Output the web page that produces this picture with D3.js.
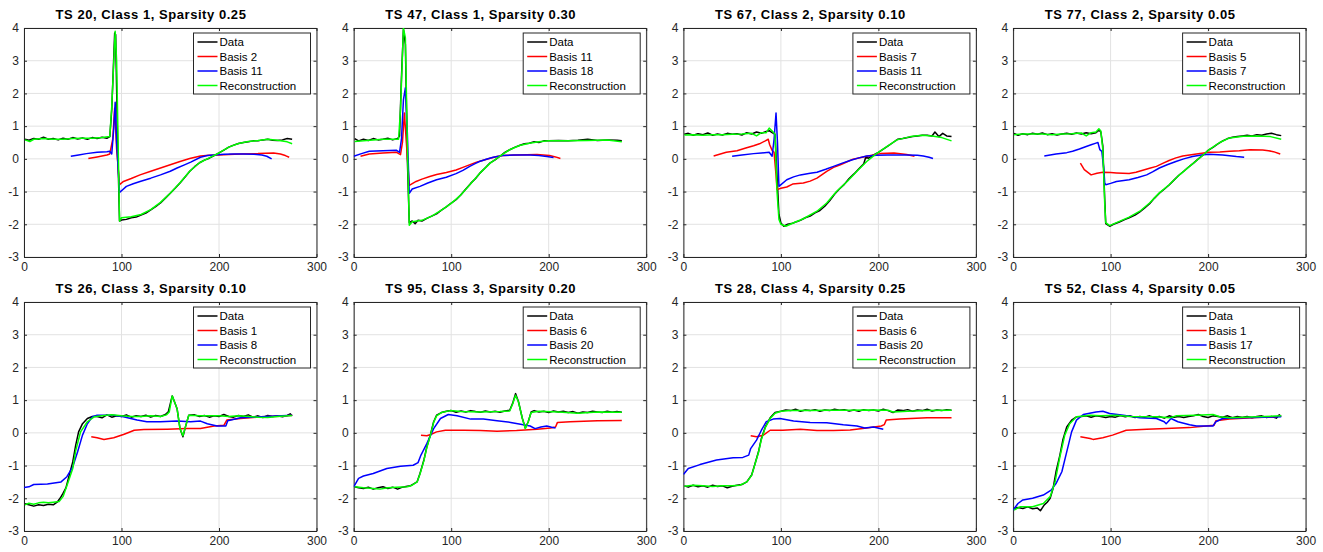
<!DOCTYPE html>
<html>
<head>
<meta charset="utf-8">
<script src="https://cdn.jsdelivr.net/npm/d3@7"></script>
<style>
  body { margin: 0; background: #fff; }
  text { font-family: "Liberation Sans", Arial, Helvetica, sans-serif; fill: #262626; }
  .title { font-weight: bold; font-size: 13px; letter-spacing: 0.55px; fill: #000; }
  .tick text { font-size: 12px; }
  .legend text { font-size: 11.5px; fill: #000; }
</style>
</head>
<body>
<svg id="fig" width="1323" height="552"></svg>
<script>
const titles = [
  "TS 20, Class 1, Sparsity 0.25", "TS 47, Class 1, Sparsity 0.30",
  "TS 67, Class 2, Sparsity 0.10", "TS 77, Class 2, Sparsity 0.05",
  "TS 26, Class 3, Sparsity 0.10", "TS 95, Class 3, Sparsity 0.20",
  "TS 28, Class 4, Sparsity 0.25", "TS 52, Class 4, Sparsity 0.05"
];
const basisALabels = ["Basis 2", "Basis 11", "Basis 7", "Basis 5", "Basis 1", "Basis 6", "Basis 6", "Basis 1"];
const basisBLabels = ["Basis 11", "Basis 18", "Basis 11", "Basis 7", "Basis 8", "Basis 20", "Basis 20", "Basis 17"];
const xTicks = [0, 100, 200, 300];
const yTicks = [-3, -2, -1, 0, 1, 2, 3, 4];

// [t, value] pairs, one list per panel
const dataSeries = [
  [[1,0.6],[5,0.57],[10,0.62],[15,0.6],[20,0.66],[25,0.6],[30,0.62],[35,0.58],[40,0.63],[45,0.6],[50,0.65],[55,0.61],[60,0.64],[65,0.6],[70,0.65],[75,0.62],[80,0.66],[85,0.63],[88,0.68],[90,1.5],[93,3.85],[94,3.8],[96,0.5],[98,-1.9],[100,-1.87],[105,-1.85],[110,-1.8],[115,-1.78],[120,-1.72],[125,-1.66],[130,-1.56],[135,-1.46],[140,-1.35],[145,-1.2],[150,-1.05],[155,-0.9],[160,-0.74],[165,-0.56],[170,-0.38],[175,-0.24],[180,-0.12],[185,-0.04],[190,0.02],[195,0.1],[200,0.18],[205,0.27],[210,0.36],[215,0.42],[220,0.47],[225,0.5],[230,0.52],[235,0.55],[240,0.55],[245,0.58],[250,0.6],[255,0.57],[260,0.56],[265,0.58],[270,0.62],[275,0.6]],
  [[1,0.62],[5,0.55],[10,0.6],[15,0.56],[20,0.62],[25,0.58],[30,0.6],[35,0.63],[40,0.58],[45,0.62],[47,0.7],[49,2.5],[51,3.95],[53,3.5],[55,0.0],[57,-1.95],[60,-1.9],[63,-1.98],[66,-1.88],[70,-1.9],[75,-1.82],[80,-1.75],[85,-1.68],[90,-1.57],[95,-1.47],[100,-1.35],[105,-1.25],[110,-1.1],[115,-0.92],[120,-0.75],[125,-0.6],[130,-0.42],[135,-0.27],[140,-0.12],[145,-0.03],[150,0.08],[155,0.2],[160,0.28],[165,0.35],[170,0.41],[175,0.46],[180,0.48],[185,0.52],[190,0.5],[195,0.55],[200,0.55],[210,0.56],[220,0.55],[230,0.57],[240,0.6],[250,0.56],[260,0.58],[270,0.57],[275,0.55]],
  [[1,0.75],[5,0.78],[10,0.72],[15,0.77],[20,0.74],[25,0.79],[30,0.72],[35,0.76],[40,0.73],[45,0.78],[50,0.75],[55,0.77],[60,0.73],[65,0.8],[70,0.76],[75,0.82],[80,0.78],[85,0.84],[88,0.86],[91,0.8],[94,0.75],[96,-0.5],[98,-1.7],[100,-1.96],[103,-2.06],[107,-2.0],[112,-1.97],[116,-1.92],[120,-1.88],[125,-1.8],[130,-1.75],[135,-1.65],[140,-1.58],[145,-1.45],[150,-1.28],[155,-1.08],[160,-0.92],[165,-0.78],[170,-0.6],[175,-0.46],[180,-0.3],[185,-0.15],[187,0.05],[190,0.02],[195,0.12],[200,0.2],[205,0.3],[210,0.4],[215,0.5],[220,0.6],[225,0.62],[230,0.65],[235,0.68],[240,0.7],[245,0.72],[250,0.72],[255,0.7],[258,0.82],[262,0.68],[266,0.78],[270,0.7],[275,0.68]],
  [[1,0.78],[5,0.72],[10,0.77],[15,0.74],[20,0.78],[25,0.75],[30,0.79],[35,0.74],[40,0.77],[45,0.73],[50,0.76],[55,0.78],[60,0.75],[65,0.79],[70,0.76],[75,0.8],[80,0.77],[85,0.8],[88,0.88],[90,0.82],[92,0.4],[94,-1.25],[95,-1.98],[99,-2.06],[103,-2.0],[109,-1.93],[115,-1.85],[119,-1.8],[125,-1.72],[130,-1.62],[135,-1.5],[140,-1.37],[145,-1.2],[150,-1.05],[155,-0.93],[160,-0.8],[165,-0.65],[170,-0.5],[175,-0.38],[180,-0.25],[185,-0.13],[190,0.0],[195,0.12],[200,0.26],[205,0.35],[210,0.46],[215,0.55],[220,0.62],[225,0.66],[230,0.68],[235,0.7],[240,0.72],[245,0.7],[250,0.74],[255,0.72],[260,0.76],[265,0.78],[270,0.74],[275,0.71]],
  [[1,-2.17],[5,-2.2],[10,-2.24],[15,-2.2],[20,-2.22],[25,-2.18],[30,-2.2],[34,-2.12],[37,-2.0],[40,-1.85],[43,-1.68],[46,-1.34],[50,-0.89],[53,-0.38],[56,0.03],[60,0.28],[65,0.44],[70,0.5],[75,0.5],[80,0.46],[85,0.55],[90,0.48],[95,0.52],[100,0.5],[105,0.55],[110,0.48],[115,0.52],[120,0.5],[125,0.54],[130,0.48],[135,0.53],[140,0.5],[145,0.56],[148,0.64],[152,1.13],[155,0.9],[157,0.74],[160,0.13],[163,-0.12],[166,0.23],[169,0.54],[175,0.55],[180,0.5],[185,0.53],[190,0.48],[195,0.52],[200,0.5],[205,0.56],[210,0.5],[215,0.48],[220,0.53],[225,0.5],[230,0.55],[235,0.48],[240,0.52],[245,0.47],[250,0.53],[255,0.5],[260,0.52],[265,0.49],[270,0.53],[273,0.58],[275,0.52]],
  [[1,-1.65],[5,-1.68],[10,-1.7],[15,-1.66],[20,-1.72],[25,-1.68],[30,-1.65],[35,-1.7],[40,-1.66],[45,-1.72],[50,-1.66],[55,-1.63],[58,-1.62],[65,-1.5],[68,-1.24],[72,-0.83],[75,-0.43],[79,-0.02],[82,0.34],[85,0.54],[90,0.62],[95,0.66],[100,0.68],[105,0.63],[110,0.67],[115,0.64],[120,0.68],[125,0.65],[130,0.63],[135,0.67],[140,0.64],[145,0.66],[150,0.63],[155,0.67],[160,0.69],[163,0.9],[166,1.2],[169,0.95],[173,0.44],[176,0.15],[179,0.34],[182,0.64],[185,0.68],[190,0.64],[195,0.66],[200,0.62],[205,0.67],[210,0.64],[215,0.66],[220,0.62],[225,0.65],[230,0.6],[235,0.64],[240,0.62],[245,0.66],[250,0.64],[255,0.62],[260,0.66],[265,0.63],[270,0.65],[275,0.63]],
  [[1,-1.62],[5,-1.66],[10,-1.6],[15,-1.65],[20,-1.62],[25,-1.66],[30,-1.6],[35,-1.64],[40,-1.62],[45,-1.68],[50,-1.63],[55,-1.6],[60,-1.58],[65,-1.5],[70,-1.29],[73,-0.99],[77,-0.58],[80,-0.17],[84,0.18],[89,0.46],[94,0.62],[100,0.66],[105,0.7],[110,0.68],[115,0.72],[120,0.66],[125,0.7],[130,0.68],[135,0.71],[140,0.66],[145,0.7],[150,0.68],[155,0.72],[160,0.69],[165,0.71],[170,0.67],[175,0.7],[180,0.66],[185,0.71],[190,0.68],[195,0.7],[200,0.67],[205,0.72],[210,0.68],[215,0.62],[220,0.7],[225,0.68],[230,0.71],[235,0.66],[240,0.7],[245,0.68],[250,0.72],[255,0.67],[260,0.7],[265,0.68],[270,0.71],[275,0.69]],
  [[1,-2.31],[5,-2.28],[10,-2.31],[15,-2.26],[20,-2.32],[25,-2.3],[28,-2.38],[32,-2.2],[35,-2.12],[38,-2.0],[41,-1.7],[44,-1.19],[48,-0.68],[51,-0.22],[55,0.18],[60,0.39],[65,0.49],[70,0.5],[75,0.52],[80,0.48],[85,0.52],[90,0.5],[95,0.47],[100,0.5],[105,0.48],[110,0.53],[115,0.49],[120,0.52],[125,0.47],[130,0.5],[135,0.48],[140,0.52],[145,0.47],[150,0.5],[155,0.45],[160,0.52],[165,0.48],[170,0.5],[175,0.47],[180,0.5],[185,0.52],[190,0.56],[195,0.5],[200,0.47],[205,0.52],[210,0.5],[215,0.48],[220,0.52],[225,0.46],[230,0.5],[235,0.47],[240,0.5],[245,0.46],[250,0.5],[255,0.52],[260,0.47],[265,0.5],[270,0.45],[273,0.55],[275,0.5]]
];

const basisASeries = [
  [[66,0.01],[75,0.06],[85,0.12],[88,0.15],[91,0.6],[93,1.55],[95,0.3],[98,-0.79],[102,-0.69],[110,-0.6],[119,-0.49],[130,-0.38],[140,-0.28],[150,-0.18],[160,-0.08],[170,0.01],[181,0.09],[190,0.11],[200,0.12],[210,0.13],[222,0.15],[240,0.16],[256,0.18],[263,0.15],[268,0.1],[272,0.05]],
  [[7,0.08],[16,0.15],[30,0.18],[44,0.2],[48,0.13],[50,0.5],[52,1.4],[54,0.5],[57,-0.81],[64,-0.69],[70,-0.62],[78,-0.54],[85,-0.48],[95,-0.42],[105,-0.34],[112,-0.26],[120,-0.17],[126,-0.1],[133,-0.04],[140,0.02],[147,0.07],[153,0.1],[167,0.12],[188,0.13],[201,0.1],[207,0.06],[212,0.01]],
  [[31,0.09],[44,0.2],[55,0.25],[64,0.33],[72,0.4],[78,0.46],[84,0.55],[87,0.6],[88.5,0.43],[91,0.26],[93,0.2],[95,-0.5],[96,-0.94],[100,-0.9],[106,-0.86],[112,-0.77],[123,-0.74],[130,-0.68],[137,-0.59],[147,-0.38],[154,-0.26],[161,-0.18],[168,-0.09],[174,-0.01],[188,0.08],[202,0.16],[216,0.18],[229,0.13],[237,0.08]],
  [[69,-0.13],[73,-0.33],[77,-0.42],[80,-0.49],[86,-0.44],[92,-0.41],[100,-0.42],[106,-0.43],[119,-0.45],[126,-0.41],[133,-0.35],[140,-0.29],[147,-0.23],[154,-0.13],[160,-0.05],[167,0.03],[174,0.09],[181,0.12],[188,0.15],[201,0.2],[212,0.21],[222,0.23],[232,0.25],[243,0.28],[256,0.27],[262,0.25],[267,0.22],[274,0.15]],
  [[69,-0.12],[75,-0.15],[82,-0.2],[92,-0.15],[102,-0.05],[108,0.02],[113,0.08],[123,0.1],[147,0.11],[167,0.13],[181,0.13],[195,0.21],[205,0.23],[208,0.39],[222,0.44],[243,0.49],[263,0.51],[275,0.54]],
  [[69,-0.07],[75,-0.09],[79,-0.05],[85,0.03],[94,0.08],[113,0.08],[130,0.07],[147,0.05],[167,0.07],[188,0.11],[202,0.15],[207,0.18],[209,0.32],[222,0.34],[250,0.37],[275,0.38]],
  [[69,-0.09],[75,-0.12],[82,-0.07],[89,0.08],[102,0.08],[120,0.11],[137,0.07],[154,0.07],[171,0.09],[188,0.15],[203,0.21],[206,0.25],[208,0.39],[222,0.42],[250,0.46],[275,0.46]],
  [[69,-0.12],[79,-0.17],[82,-0.2],[92,-0.15],[102,-0.07],[116,0.08],[137,0.11],[157,0.13],[181,0.16],[198,0.21],[206,0.23],[208,0.37],[222,0.42],[250,0.47],[270,0.49]]
];

const basisBSeries = [
  [[48,0.08],[56,0.12],[64,0.16],[75,0.2],[85,0.22],[88,0.23],[90,0.15],[92,0.9],[93.5,1.73],[95,0.5],[98,-1.03],[105,-0.84],[112,-0.76],[119,-0.69],[130,-0.59],[140,-0.49],[150,-0.38],[157,-0.28],[164,-0.19],[171,-0.1],[181,0.05],[188,0.1],[195,0.12],[205,0.14],[215,0.15],[225,0.15],[236,0.14],[244,0.12],[249,0.08],[254,0.0]],
  [[0,0.08],[8,0.16],[16,0.23],[30,0.25],[44,0.26],[47,0.2],[49,0.6],[51,1.8],[53,2.17],[55,0.8],[57,-1.05],[60,-0.92],[68,-0.84],[76,-0.74],[85,-0.64],[95,-0.56],[105,-0.45],[112,-0.35],[119,-0.23],[125,-0.14],[129,-0.08],[136,-0.01],[143,0.05],[153,0.1],[164,0.12],[181,0.12],[190,0.1],[198,0.07],[205,0.04]],
  [[50,0.08],[60,0.12],[72,0.16],[80,0.18],[88,0.2],[91,0.08],[93,0.6],[95,1.4],[96.5,0.5],[98,-0.84],[106,-0.64],[113,-0.55],[120,-0.49],[130,-0.44],[137,-0.41],[146,-0.32],[154,-0.23],[163,-0.13],[171,-0.05],[180,0.03],[188,0.09],[198,0.11],[209,0.12],[229,0.12],[240,0.11],[246,0.09],[252,0.05],[256,0.01]],
  [[32,0.09],[44,0.15],[55,0.19],[61,0.23],[68,0.3],[75,0.38],[80,0.43],[85,0.48],[87,0.5],[89,0.28],[91,0.23],[93,-0.3],[94,-0.74],[95,-0.79],[100,-0.75],[106,-0.69],[119,-0.64],[128,-0.57],[137,-0.49],[143,-0.4],[150,-0.28],[158,-0.18],[167,-0.08],[175,0.0],[184,0.07],[193,0.12],[201,0.14],[215,0.12],[229,0.07],[237,0.05]],
  [[0,-1.67],[5,-1.65],[10,-1.58],[24,-1.56],[38,-1.5],[44,-1.34],[50,-1.04],[55,-0.58],[60,-0.07],[65,0.28],[70,0.49],[75,0.54],[92,0.54],[102,0.49],[116,0.39],[126,0.34],[140,0.34],[157,0.36],[171,0.34],[181,0.36],[188,0.28],[198,0.21],[207,0.21],[209,0.37],[222,0.46],[243,0.49],[275,0.54]],
  [[0,-1.65],[5,-1.39],[10,-1.32],[20,-1.24],[34,-1.09],[48,-1.02],[61,-0.99],[66,-0.91],[69,-0.68],[75,-0.33],[82,0.13],[89,0.44],[97,0.56],[106,0.52],[120,0.42],[133,0.42],[147,0.37],[161,0.32],[174,0.25],[181,0.21],[186,0.13],[192,0.18],[198,0.21],[203,0.17],[207,0.15]],
  [[0,-1.27],[5,-1.09],[17,-0.97],[34,-0.83],[51,-0.76],[61,-0.75],[67,-0.68],[69,-0.48],[75,-0.22],[80,0.08],[85,0.34],[92,0.42],[99,0.44],[113,0.36],[130,0.32],[147,0.31],[164,0.25],[178,0.21],[186,0.15],[195,0.18],[205,0.11]],
  [[0,-2.36],[5,-2.16],[10,-2.05],[20,-2.0],[31,-1.9],[39,-1.75],[44,-1.55],[50,-1.19],[55,-0.58],[60,0.03],[65,0.39],[72,0.56],[85,0.64],[92,0.66],[99,0.59],[113,0.54],[130,0.46],[147,0.44],[155,0.34],[157,0.28],[162,0.44],[169,0.34],[181,0.25],[188,0.21],[205,0.21],[208,0.34],[215,0.44],[236,0.46],[275,0.49]]
];

const reconSeries = [
  [[1,0.58],[6,0.53],[10,0.6],[20,0.62],[30,0.6],[40,0.6],[50,0.62],[60,0.63],[70,0.63],[80,0.65],[88,0.68],[90,1.6],[93.5,3.9],[95,3.0],[98,-1.9],[100,-1.8],[110,-1.77],[120,-1.7],[130,-1.55],[140,-1.33],[150,-1.05],[160,-0.73],[170,-0.38],[180,-0.12],[190,0.03],[200,0.18],[210,0.36],[220,0.47],[230,0.53],[240,0.56],[250,0.6],[260,0.57],[270,0.52],[275,0.46]],
  [[1,0.53],[10,0.55],[20,0.58],[30,0.6],[40,0.6],[46,0.6],[48,1.5],[51,4.0],[53,3.7],[55,0.5],[57,-2.03],[60,-1.92],[70,-1.88],[80,-1.75],[90,-1.57],[100,-1.36],[110,-1.1],[120,-0.76],[130,-0.42],[140,-0.13],[150,0.08],[160,0.28],[170,0.41],[180,0.48],[190,0.52],[200,0.55],[220,0.55],[240,0.56],[260,0.58],[275,0.52]],
  [[1,0.73],[10,0.74],[20,0.72],[30,0.74],[40,0.74],[50,0.75],[60,0.76],[70,0.78],[75,0.7],[80,0.8],[85,0.8],[88,0.94],[92,0.82],[94,0.75],[96,-1.0],[98,-1.85],[100,-2.0],[105,-2.06],[112,-1.97],[123,-1.83],[137,-1.6],[147,-1.35],[157,-1.0],[168,-0.69],[178,-0.38],[188,-0.08],[198,0.16],[209,0.38],[219,0.58],[233,0.68],[245,0.72],[255,0.7],[265,0.65],[275,0.55]],
  [[1,0.74],[10,0.76],[20,0.76],[30,0.76],[40,0.74],[50,0.76],[60,0.77],[70,0.79],[75,0.7],[80,0.8],[85,0.82],[88,0.92],[90,0.85],[92,0.3],[94,-1.4],[95,-1.95],[99,-2.04],[109,-1.91],[119,-1.78],[130,-1.6],[140,-1.35],[150,-1.04],[160,-0.79],[171,-0.48],[181,-0.23],[191,0.02],[201,0.28],[212,0.5],[222,0.64],[236,0.69],[250,0.7],[264,0.68],[275,0.6]],
  [[1,-2.2],[5,-2.15],[10,-2.18],[15,-2.14],[20,-2.12],[25,-2.14],[30,-2.12],[36,-2.1],[40,-1.95],[44,-1.62],[50,-1.09],[53,-0.55],[58,0.03],[65,0.34],[72,0.49],[80,0.52],[90,0.55],[100,0.52],[110,0.5],[120,0.5],[130,0.52],[140,0.5],[146,0.55],[149,0.64],[152,1.13],[155,0.9],[157,0.74],[160,0.13],[163,-0.09],[166,0.23],[169,0.54],[180,0.52],[200,0.52],[210,0.5],[220,0.52],[240,0.48],[250,0.47],[260,0.5],[275,0.53]],
  [[1,-1.65],[10,-1.68],[20,-1.7],[27,-1.72],[35,-1.68],[44,-1.66],[55,-1.65],[60,-1.6],[65,-1.5],[68,-1.26],[72,-0.85],[75,-0.45],[79,-0.04],[82,0.32],[85,0.52],[90,0.62],[99,0.68],[110,0.65],[130,0.64],[150,0.65],[160,0.67],[163,0.88],[166,1.15],[169,0.95],[173,0.44],[176,0.13],[179,0.34],[182,0.62],[190,0.66],[210,0.64],[230,0.6],[250,0.64],[275,0.63]],
  [[1,-1.63],[10,-1.6],[20,-1.62],[30,-1.64],[40,-1.62],[50,-1.62],[58,-1.6],[65,-1.5],[70,-1.3],[73,-1.0],[77,-0.6],[80,-0.2],[84,0.16],[89,0.44],[94,0.6],[100,0.66],[110,0.68],[130,0.68],[150,0.69],[170,0.69],[190,0.7],[210,0.69],[215,0.64],[230,0.66],[250,0.68],[275,0.69]],
  [[1,-2.36],[7,-2.26],[20,-2.26],[31,-2.16],[38,-1.95],[43,-1.5],[48,-0.73],[53,-0.07],[58,0.28],[65,0.49],[79,0.54],[90,0.52],[106,0.54],[120,0.5],[147,0.49],[161,0.46],[167,0.52],[188,0.54],[205,0.56],[212,0.49],[222,0.46],[250,0.49],[275,0.52]]
];

const svg = d3.select("#fig");

const panelWidth = 292.5;
const panelHeight = 229;
const colStep = 329.7;
const rowTops = [28, 302];
const firstLeft = 24;

const colors = { data: "#000000", a: "#ff0000", b: "#0000ff", recon: "#00ff00" };

titles.forEach((title, i) => {
  const col = i % 4;
  const row = Math.floor(i / 4);
  const left = firstLeft + col * colStep;
  const top = rowTops[row];

  const x = d3.scaleLinear().domain([0, 300]).range([0, panelWidth]);
  const y = d3.scaleLinear().domain([-3, 4]).range([panelHeight, 0]);

  const g = svg.append("g").attr("transform", `translate(${left},${top})`);

  // grid
  g.append("g")
    .selectAll("line")
    .data(xTicks)
    .join("line")
      .attr("x1", d => x(d)).attr("x2", d => x(d))
      .attr("y1", 0).attr("y2", panelHeight)
      .attr("stroke", "#e2e2e2").attr("stroke-width", 1);
  g.append("g")
    .selectAll("line")
    .data(yTicks)
    .join("line")
      .attr("y1", d => y(d)).attr("y2", d => y(d))
      .attr("x1", 0).attr("x2", panelWidth)
      .attr("stroke", "#e2e2e2").attr("stroke-width", 1);

  // axes, ticks pointing inward on all four sides
  const fmt = d => String(d);
  const xAxis = g.append("g")
    .attr("transform", `translate(0,${panelHeight})`)
    .call(d3.axisBottom(x).tickValues(xTicks).tickFormat(fmt).tickSizeInner(-3).tickSizeOuter(0).tickPadding(5));
  const yAxis = g.append("g")
    .call(d3.axisLeft(y).tickValues(yTicks).tickFormat(fmt).tickSizeInner(-3).tickSizeOuter(0).tickPadding(5));
  g.append("g")
    .call(d3.axisTop(x).tickValues(xTicks).tickSizeInner(-3).tickSizeOuter(0).tickFormat(""));
  g.append("g")
    .attr("transform", `translate(${panelWidth},0)`)
    .call(d3.axisRight(y).tickValues(yTicks).tickSizeInner(-3).tickSizeOuter(0).tickFormat(""));
  g.selectAll(".domain").attr("stroke", "#262626");
  g.selectAll(".tick line").attr("stroke", "#262626");
  xAxis.selectAll("text").attr("fill", "#262626");
  yAxis.selectAll("text").attr("fill", "#262626");

  // lines
  const clipId = "clip" + i;
  g.append("clipPath").attr("id", clipId)
    .append("rect").attr("width", panelWidth).attr("height", panelHeight);

  const line = d3.line().x(d => x(d[0])).y(d => y(d[1]));
  const series = [
    [dataSeries[i], colors.data],
    [basisASeries[i], colors.a],
    [basisBSeries[i], colors.b],
    [reconSeries[i], colors.recon]
  ];
  g.append("g").attr("clip-path", `url(#${clipId})`)
    .selectAll("path")
    .data(series)
    .join("path")
      .attr("d", d => line(d[0]))
      .attr("fill", "none")
      .attr("stroke", d => d[1])
      .attr("stroke-width", 1.5)
      .attr("stroke-linejoin", "round");

  // title
  g.append("text")
    .attr("class", "title")
    .attr("x", 127)
    .attr("y", -9)
    .attr("text-anchor", "middle")
    .text(title);

  // legend
  const legendItems = [
    ["Data", colors.data],
    [basisALabels[i], colors.a],
    [basisBLabels[i], colors.b],
    ["Reconstruction", colors.recon]
  ];
  const legendW = 117, legendH = 61;
  const legend = g.append("g")
    .attr("class", "legend")
    .attr("transform", `translate(${panelWidth - 6 - legendW},5)`);
  legend.append("rect")
    .attr("width", legendW).attr("height", legendH)
    .attr("fill", "#fff").attr("stroke", "#262626").attr("stroke-width", 1);
  const rows = legend.selectAll("g")
    .data(legendItems)
    .join("g")
      .attr("transform", (d, k) => `translate(0,${9 + k * 14.5})`);
  rows.append("line")
    .attr("x1", 4).attr("x2", 24)
    .attr("stroke", d => d[1]).attr("stroke-width", 1.5);
  rows.append("text")
    .attr("x", 26).attr("y", 4)
    .text(d => d[0]);
});
</script>
</body>
</html>
